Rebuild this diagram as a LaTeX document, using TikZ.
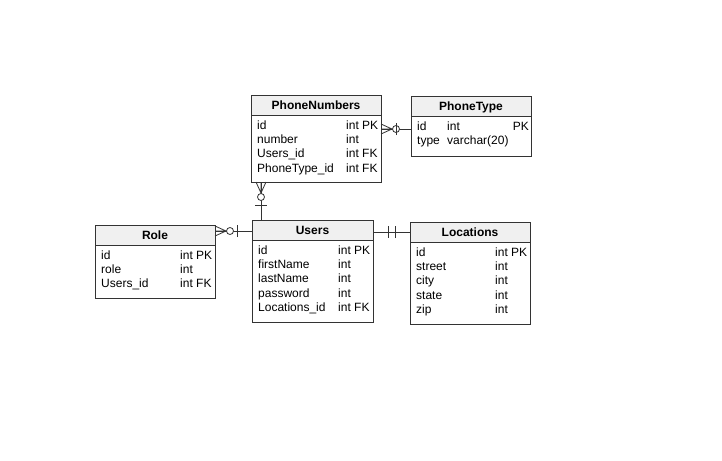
\documentclass[tikz,border=0pt]{standalone}
\usepackage{fontspec}
\setmainfont{Liberation Sans}
\usetikzlibrary{calc}

\definecolor{hdrgray}{HTML}{F0F0F0}
\definecolor{edge}{HTML}{333333}

\begin{document}
\begin{tikzpicture}[x=1pt, y=-1pt,
		font=\fontsize{12}{14}\selectfont,
		tbl/.style={draw=edge, line width=0.8pt, fill=white, anchor=north west, inner sep=0pt, outer sep=0pt},
		hdr/.style={draw=edge, line width=0.8pt, fill=hdrgray},
		title/.style={anchor=base, inner sep=0pt, font=\fontsize{12}{14}\selectfont\bfseries},
		cell/.style={anchor=base west, inner sep=0pt},
		link/.style={draw=edge, line width=0.8pt},
		manyzero/.pic={
			\draw[link] (0,-5) -- (11,0) -- (0,5) (0,0) -- (11,0);
			\draw[link, fill=white] (15,0) circle[radius=3.5pt];
		},
		onebar/.pic={\draw[link] (15,-6) -- (15,6);}
	]
	\useasboundingbox[fill=white] (0,0) rectangle (722,460);

	% tables
	\node[tbl, minimum width=130pt, minimum height=87pt] (pn) at (251,95) {};
	\draw[hdr] (pn.north west) rectangle ++(130,20);
	\path (pn.north) ++(0,14.3) node[title] {PhoneNumbers};
	\foreach \f/\t [count=\i from 0] in {id/int PK, number/int, Users\_id/int FK, PhoneType\_id/int FK}
		\path (pn.north west) ++(6,34.5+14.2*\i) node[cell] {\f} ++(89,0) node[cell] {\t};

	\node[tbl, minimum width=120pt, minimum height=60pt] (pt) at (411,96) {};
	\draw[hdr] (pt.north west) rectangle ++(120,20);
	\path (pt.north) ++(0,14.3) node[title] {PhoneType};
	\path (pt.north west) ++(6,34.5) node[cell] {id} ++(30,0) node[cell] {int};
	\path (pt.north east) ++(-2,34.5) node[anchor=base east, inner sep=0pt] {PK};
	\path (pt.north west) ++(6,48.7) node[cell] {type} ++(30,0) node[cell] {varchar(20)};

	\node[tbl, minimum width=120pt, minimum height=73pt] (role) at (95,225) {};
	\draw[hdr] (role.north west) rectangle ++(120,20);
	\path (role.north) ++(0,14.3) node[title] {Role};
	\foreach \f/\t [count=\i from 0] in {id/int PK, role/int, Users\_id/int FK}
		\path (role.north west) ++(6,34.5+14.2*\i) node[cell] {\f} ++(79,0) node[cell] {\t};

	\node[tbl, minimum width=121pt, minimum height=102pt] (users) at (252,220) {};
	\draw[hdr] (users.north west) rectangle ++(121,20);
	\path (users.north) ++(0,14.3) node[title] {Users};
	\foreach \f/\t [count=\i from 0] in {id/int PK, firstName/int, lastName/int, password/int, Locations\_id/int FK}
		\path (users.north west) ++(6,34.5+14.2*\i) node[cell] {\f} ++(80,0) node[cell] {\t};

	\node[tbl, minimum width=120pt, minimum height=102pt] (loc) at (410,222) {};
	\draw[hdr] (loc.north west) rectangle ++(120,20);
	\path (loc.north) ++(0,14.3) node[title] {Locations};
	\foreach \f/\t [count=\i from 0] in {id/int PK, street/int, city/int, state/int, zip/int}
		\path (loc.north west) ++(6,34.5+14.2*\i) node[cell] {\f} ++(79,0) node[cell] {\t};

	% relations
	\coordinate (pnR) at ($(pn.north east)+(0,34)$);
	\coordinate (ptL) at (pt.west |- pnR);
	\draw[link] (pnR) -- (ptL);
	\pic at (pnR) {manyzero};
	\pic[rotate=180] at (ptL) {onebar};

	\coordinate (pnB) at ($(pn.south west)+(10,0)$);
	\coordinate (usT) at (pnB |- users.north);
	\draw[link] (pnB) -- (usT);
	\pic[rotate=-90] at (pnB) {manyzero};
	\pic[rotate=90] at (usT) {onebar};

	\coordinate (roleR) at ($(role.north east)+(0,6)$);
	\coordinate (usL) at (users.west |- roleR);
	\draw[link] (roleR) -- (usL);
	\pic at (roleR) {manyzero};
	\pic[rotate=180] at (usL) {onebar};

	\coordinate (usR) at ($(users.north east)+(0,12)$);
	\coordinate (locL) at (loc.west |- usR);
	\draw[link] (usR) -- (locL);
	\pic at (usR) {onebar};
	\pic[rotate=180] at (locL) {onebar};
\end{tikzpicture}
\end{document}
